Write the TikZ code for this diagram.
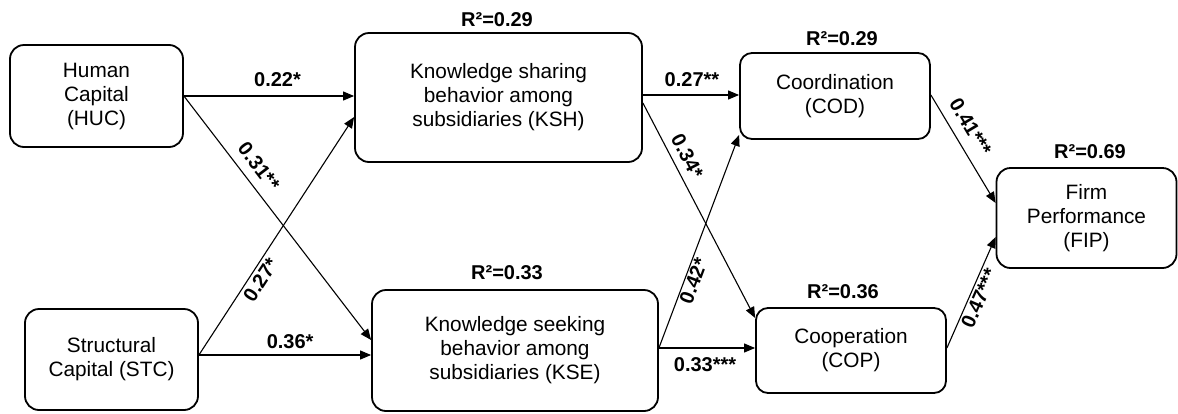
\documentclass[tikz,border=0pt]{standalone}
\usepackage{fontspec}
\setmainfont{Liberation Sans}
\usetikzlibrary{arrows.meta,calc}
\begin{document}
\begin{tikzpicture}[x=1pt,y=-1pt,
  box/.style={draw, line width=1.8pt, rounded corners=14pt, align=center,
    font=\fontsize{20.8}{24}\selectfont, inner sep=0pt},
  arr/.style={line width=1.1pt, -{Triangle[length=11pt,width=9pt]}},
  lab/.style={font=\fontsize{20}{24}\selectfont\bfseries, inner sep=0pt, sloped},
  rsq/.style={font=\fontsize{20}{24}\selectfont\bfseries, inner sep=0pt}]
\useasboundingbox (0,0) rectangle (1178,413);

% boxes
\node[box, minimum width=173pt, minimum height=102pt] (huc) at (96.5,96) {Human\\Capital\\(HUC)};
\node[box, minimum width=173pt, minimum height=101pt] (stc) at (111.5,359.5) {Structural\\Capital (STC)};
\node[box, minimum width=287pt, minimum height=129pt] (ksh) at (498.5,97.5) {Knowledge sharing\\behavior among\\subsidiaries (KSH)};
\node[box, minimum width=286pt, minimum height=121pt] (kse) at (515,350.5) {Knowledge seeking\\behavior among\\subsidiaries (KSE)};
\node[box, minimum width=190pt, minimum height=86pt, rounded corners=12pt] (cod) at (835,96) {Coordination\\(COD)};
\node[box, minimum width=190pt, minimum height=85pt, rounded corners=12pt] (cop) at (851,350.5) {Cooperation\\(COP)};
\node[box, minimum width=180pt, minimum height=100pt] (fip) at (1086.5,218) {Firm\\Performance\\(FIP)};

% R squared
\node[rsq] (r2ksh) at (497,20) {R²=0.29};
\node[rsq] (r2kse) at (507,273) {R²=0.33};
\node[rsq] (r2cod) at (842,39) {R²=0.29};
\node[rsq] (r2cop) at (843,292) {R²=0.36};
\node[rsq] (r2fip) at (1090,152) {R²=0.69};

% connector anchors
\coordinate (s1) at ([yshift=4.5pt]stc.east);
\coordinate (k1) at ([yshift=2.5pt]ksh.east);
\coordinate (k2) at ([yshift=-5.5pt]ksh.east);
\coordinate (e1) at ([yshift=2.5pt]kse.east);
\coordinate (c1) at ([yshift=1pt]cod.east);
\coordinate (p1) at ([yshift=2.5pt]cop.east);

% paths
\draw[arr] (huc.east) -- (huc.east -| ksh.west) node[lab, above=9pt, pos=0.55] {0.22*};
\draw[arr] (huc.east) -- ([yshift=10.5pt]kse.west) node[lab, above=9pt, pos=0.33] {0.31**};
\draw[arr] (s1) -- ([yshift=-19.5pt]ksh.west) node[lab, below=3pt, pos=0.34] {0.27*};
\draw[arr] (s1) -- (s1 -| kse.west) node[lab, above=6pt, pos=0.53] {0.36*};
\draw[arr] (k1) -- (k1 -| cod.west) node[lab, above=8pt, pos=0.51] {0.27**};
\draw[arr] (k2) -- ([yshift=32.5pt]cop.west) node[lab, above=7pt, pos=0.28] {0.34*};
\draw[arr] (e1) -- ([yshift=-39pt]cod.west) node[lab, below=1pt, pos=0.33] {0.42*};
\draw[arr] (e1) -- (e1 -| cop.west) node[lab, below=9pt, pos=0.48] {0.33***};
\draw[arr] (c1) -- ([yshift=15pt]fip.west) node[lab, above=10pt, pos=0.38] {0.41***};
\draw[arr] (p1) -- ([yshift=-19pt]fip.west) node[lab, below=2pt, pos=0.48] {0.47***};
\end{tikzpicture}
\end{document}
